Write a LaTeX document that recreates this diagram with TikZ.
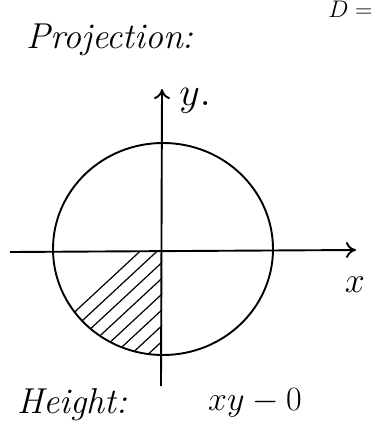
\RequirePackage{fix-cm}
\documentclass[tikz,border=0pt]{standalone}
\usepackage{mathtools}
\usepackage{fontspec}
\usetikzlibrary{arrows.meta}

\begin{document}
\begin{tikzpicture}[x=1pt, y=-1pt, >={To[length=10pt,width=16pt]}, line width=1.9pt]
  \useasboundingbox (0,0) rectangle (372,444);
  \coordinate (O) at (162, 252);
  \coordinate (C) at (163, 249);
  \coordinate (W) at (10, 252);
  \coordinate (E) at (356, 250);
  \coordinate (S) at (161, 386);
  \coordinate (N) at (162, 89);

  % shaded part of the disk
  \begin{scope}
    \clip (O) rectangle (45, 365);
    \clip (C) ellipse (110 and 106);
    \foreach \k in {0,...,9}
      \draw[line width=1.2pt] (10+\k*17, 372) -- ++(140,-130);
  \end{scope}

  \draw (C) ellipse (110 and 106);
  \draw[->] (W) -- (E);
  \draw[->] (S) -- (N);

  \node[font=\fontsize{36}{38}\selectfont\itshape] (proj) at (110, 40) {Projection:};
  \node[font=\fontsize{40}{42}\selectfont] (ylab) at (195, 101) {$y.$};
  \node[font=\fontsize{36}{38}\selectfont] (xlab) at (355, 285) {$x$};
  \node[font=\fontsize{24}{26}\selectfont, anchor=base west] (dlab) at (324, 18) {$D =$};
  \node[font=\fontsize{36}{38}\selectfont\itshape] (hgt) at (72, 405) {Height:};
  \node[font=\fontsize{34}{36}\selectfont] (expr) at (255, 403) {$xy - 0$};
\end{tikzpicture}
\end{document}
